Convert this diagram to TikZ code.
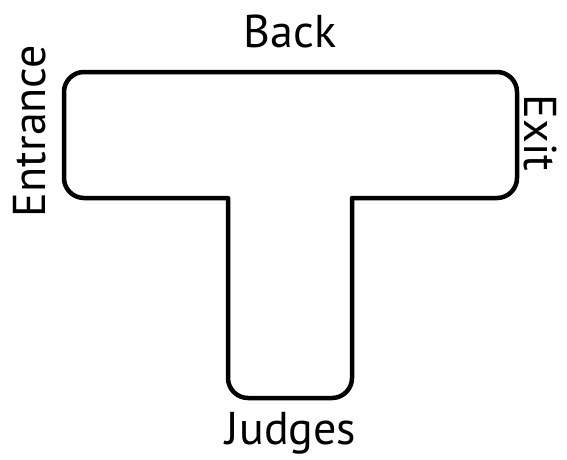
\documentclass[tikz,border=0pt]{standalone}
\usepackage{fontspec}
\setmainfont{PT Sans}
\usepackage{tikz}
\usetikzlibrary{positioning}

\begin{document}
\begin{tikzpicture}[
  x=1pt, y=1pt,
  track/.style={draw, line width=4.5pt, line join=round},
  lbl/.style={font=\fontsize{46}{48}\selectfont, inner sep=0pt}
]
\useasboundingbox (0,0) rectangle (567,459);

% T-shaped ring, outer corners rounded, inner corners sharp
\draw[track] (228,261) -- (84,261) arc[start angle=270, end angle=180, radius=20]
  -- (64,367) arc[start angle=180, end angle=90, radius=20]
  -- (497,387) arc[start angle=90, end angle=0, radius=20]
  -- (517,281) arc[start angle=0, end angle=-90, radius=20]
  -- (352,261) -- (352,81) arc[start angle=0, end angle=-90, radius=20]
  -- (248,61) arc[start angle=270, end angle=180, radius=20] -- cycle;

\node[lbl] (back) at (290,428) {Back};
\node[lbl, rotate=90] (entrance) at (30,328) {Entrance};
\node[lbl, rotate=-90] (exit) at (540,326) {Exit};
\node[lbl] (judges) at (291,26) {Judges};

\end{tikzpicture}
\end{document}
